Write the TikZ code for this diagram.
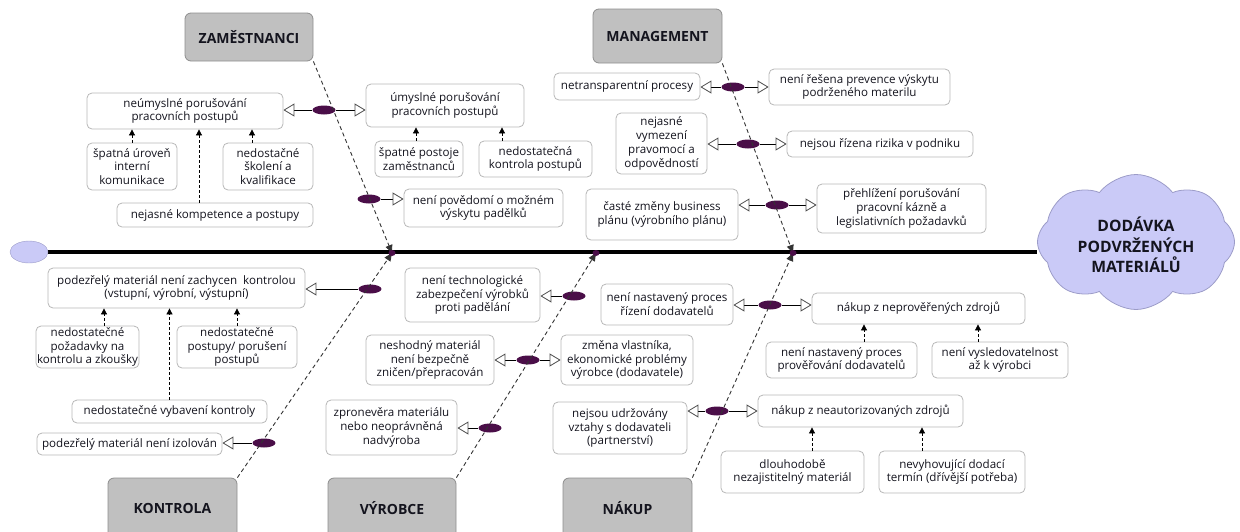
\documentclass[tikz,border=0pt]{standalone}
\usepackage{fontspec}
\setmainfont{Open Sans}
\usetikzlibrary{arrows.meta,shapes.geometric,shapes.symbols}
\definecolor{txt}{HTML}{14141E}
\definecolor{boxline}{HTML}{B8B8B8}
\definecolor{catfill}{HTML}{C0C0C0}
\definecolor{catline}{HTML}{8E8E8E}
\definecolor{pillc}{HTML}{4A0E48}
\definecolor{lav}{HTML}{CACAF7}
\definecolor{lavline}{HTML}{9C9CC8}
\pgfdeclarelayer{bg}
\pgfsetlayers{bg,main}
\tikzset{
  cause/.style={draw=boxline, fill=white, rounded corners=5pt, line width=0.8pt,
    align=center, text=txt, font=\fontsize{11.6}{13.8}\selectfont, inner sep=1pt},
  cat/.style={draw=catline, fill=catfill, rounded corners=6pt, line width=0.8pt,
    font=\fontsize{14}{16}\selectfont\bfseries, text=txt},
  pill/.style={ellipse, fill=pillc, minimum width=23pt, minimum height=9pt, inner sep=0pt},
  joint/.style={ellipse, fill=pillc, minimum width=7pt, minimum height=6pt, inner sep=0pt},
  link/.style={line width=0.8pt, draw=black,
    -{Triangle[open, length=11pt, width=13pt, line width=0.8pt, color=black!70]}},
  sub/.style={dashed, dash pattern=on 3pt off 2pt, line width=0.8pt, draw=black,
    -{Triangle[length=6pt, width=6pt]}},
  bone/.style={dashed, dash pattern=on 4pt off 3pt, line width=0.9pt, draw=black!80,
    -{Triangle[length=8pt, width=7pt]}},
}
\begin{document}
\begin{tikzpicture}[x=1pt, y=-1pt]
\useasboundingbox (0,0) rectangle (1240,531);
\clip (0,0) rectangle (1240,531);

% spine head and tail
\node[ellipse, draw=lavline, fill=lav, minimum width=38pt, minimum height=22pt, inner sep=0pt] (tail) at (29,252) {};
\node[cloud, cloud puffs=8, cloud puff arc=105, cloud ignores aspect, draw=lavline, fill=lav,
  line width=0.8pt, minimum width=197pt, minimum height=135pt, inner sep=0pt] (head) at (1136,242) {};
\node[font=\fontsize{15.7}{20.5}\selectfont\bfseries, text=txt, align=center] (effect) at (1136,245)
  {DODÁVKA\\PODVRŽENÝCH\\MATERIÁLŮ};
\begin{pgfonlayer}{bg}
  \draw[line width=3.2pt] (tail.east) -- (tail -| head.west);
\end{pgfonlayer}

% junctions on the spine
\coordinate (j1) at (392,253);
\coordinate (j2) at (596,253);
\coordinate (j3) at (793,253);

% category boxes
\node[cat, minimum width=128pt, minimum height=48pt] (zam) at (249,37) {ZAMĚSTNANCI};
\node[cat, minimum width=129pt, minimum height=54pt] (man) at (657.5,36) {MANAGEMENT};
\node[cat, minimum width=129pt, minimum height=60pt] (kon) at (172.5,508) {KONTROLA};
\node[cat, minimum width=128pt, minimum height=60pt] (vyr) at (392,508) {VÝROBCE};
\node[cat, minimum width=129pt, minimum height=60pt] (nak) at (627.5,508) {NÁKUP};

% ZAMĚSTNANCI causes
\node[cause, minimum width=196pt, minimum height=36pt] (n1) at (185,111) {neúmyslné porušování\\pracovních postupů};
\node[cause, minimum width=158pt, minimum height=43pt] (n2) at (445,105.5) {úmyslné porušování\\pracovních postupů};
\node[cause, minimum width=90pt, minimum height=47pt] (n3) at (132,166.5) {špatná úroveň\\interní\\komunikace};
\node[cause, minimum width=90pt, minimum height=47pt] (n4) at (268,166.5) {nedostačné\\školení a\\kvalifikace};
\node[cause, minimum width=196pt, minimum height=24pt] (n5) at (215,215) {nejasné kompetence a postupy};
\node[cause, minimum width=88pt, minimum height=36pt] (n6) at (419,159) {špatné postoje\\zaměstnanců};
\node[cause, minimum width=113pt, minimum height=36pt] (n7) at (535.5,159) {nedostatečná\\kontrola postupů};
\node[cause, minimum width=159pt, minimum height=38pt] (n8) at (483.5,208) {není povědomí o možném\\výskytu padělků};

% MANAGEMENT causes
\node[cause, minimum width=146pt, minimum height=27pt] (n9) at (627,86.5) {netransparentní procesy};
\node[cause, minimum width=181pt, minimum height=36pt] (n10) at (859.5,87) {není řešena prevence výskytu\\podrženého materilu};
\node[cause, minimum width=91pt, minimum height=61pt] (n11) at (661.5,143.5) {nejasné\\vymezení\\pravomocí a\\odpovědností};
\node[cause, minimum width=186pt, minimum height=26pt] (n12) at (880,144) {nejsou řízena rizika v podniku};
\node[cause, minimum width=152pt, minimum height=51pt] (n13) at (662,214.5) {časté změny business\\plánu (výrobního plánu)};
\node[cause, minimum width=169pt, minimum height=49pt] (n14) at (901.5,208.5) {přehlížení porušování\\pracovní kázně a\\legislativních požadavků};

% KONTROLA causes
\node[cause, minimum width=257pt, minimum height=40pt] (n15) at (176.5,288) {podezřelý materiál není zachycen\ \ kontrolou\\(vstupní, výrobní, výstupní)};
\node[cause, minimum width=101pt, minimum height=42pt] (n16) at (87.5,347) {nedostatečné\\požadavky na\\kontrolu a zkoušky};
\node[cause, minimum width=120pt, minimum height=42pt] (n17) at (237,347) {nedostatečné\\postupy/ porušení\\postupů};
\node[cause, minimum width=195pt, minimum height=23pt] (n18) at (169.5,411.5) {nedostatečné vybavení kontroly};
\node[cause, minimum width=185pt, minimum height=22pt] (n19) at (129.5,444) {podezřelý materiál není izolován};

% VÝROBCE causes
\node[cause, minimum width=135pt, minimum height=54pt] (n20) at (472.5,295) {není technologické\\zabezpečení výrobků\\proti padělání};
\node[cause, minimum width=128pt, minimum height=50pt] (n21) at (430,360) {neshodný materiál\\není bezpečně\\zničen/přepracován};
\node[cause, minimum width=132pt, minimum height=50pt] (n22) at (627,360) {změna vlastníka,\\ekonomické problémy\\výrobce (dodavatele)};
\node[cause, minimum width=131pt, minimum height=55pt] (n23) at (391.5,427.5) {zpronevěra materiálu\\nebo neoprávněná\\nadvýroba};

% NÁKUP causes
\node[cause, minimum width=132pt, minimum height=41pt] (n24) at (667,304.5) {není nastavený proces\\řízení dodavatelů};
\node[cause, minimum width=213pt, minimum height=31pt] (n25) at (918.5,308.5) {nákup z neprověřených zdrojů};
\node[cause, minimum width=151pt, minimum height=36pt] (n26) at (841.5,360) {není nastavený proces\\prověřování dodavatelů};
\node[cause, minimum width=136pt, minimum height=36pt] (n27) at (1000,360) {není vysledovatelnost\\až k výrobci};
\node[cause, minimum width=134pt, minimum height=52pt] (n28) at (620,428) {nejsou udržovány\\vztahy s dodavateli\\(partnerství)};
\node[cause, minimum width=205pt, minimum height=32pt] (n29) at (860.5,411) {nákup z neautorizovaných zdrojů};
\node[cause, minimum width=143pt, minimum height=42pt] (n30) at (792.5,472) {dlouhodobě\\nezajistitelný materiál};
\node[cause, minimum width=146pt, minimum height=42pt] (n31) at (952,472) {nevyhovující dodací\\termín (dřívější potřeba)};

% pills that hold the cause pairs on the bones
\node[pill] (o1) at (324,110) {};
\node[pill] (o2) at (369,199) {};
\node[pill] (o3) at (733,87) {};
\node[pill] (o4) at (748,144) {};
\node[pill] (o5) at (777,205) {};
\node[pill] (o6) at (370,289) {};
\node[pill] (o7) at (264,443) {};
\node[pill] (o8) at (574,296) {};
\node[pill] (o9) at (528,360) {};
\node[pill] (o10) at (490,428) {};
\node[pill] (o11) at (770,305) {};
\node[pill] (o12) at (717,411) {};

% links from pills to causes
\begin{pgfonlayer}{bg}
  \draw[link] (o1) -- (o1 -| n1.east);
  \draw[link] (o1) -- (o1 -| n2.west);
  \draw[link] (o2) -- (o2 -| n8.west);
  \draw[link] (o3) -- (o3 -| n9.east);
  \draw[link] (o3) -- (o3 -| n10.west);
  \draw[link] (o4) -- (o4 -| n11.east);
  \draw[link] (o4) -- (o4 -| n12.west);
  \draw[link] (o5) -- (o5 -| n13.east);
  \draw[link] (o5) -- (o5 -| n14.west);
  \draw[link] (o6) -- (o6 -| n15.east);
  \draw[link] (o7) -- (o7 -| n19.east);
  \draw[link] (o8) -- (o8 -| n20.east);
  \draw[link] (o9) -- (o9 -| n21.east);
  \draw[link] (o9) -- (o9 -| n22.west);
  \draw[link] (o10) -- (o10 -| n23.east);
  \draw[link] (o11) -- (o11 -| n24.east);
  \draw[link] (o11) -- (o11 -| n25.west);
  \draw[link] (o12) -- (o12 -| n28.east);
  \draw[link] (o12) -- (o12 -| n29.west);
\end{pgfonlayer}

% sub-causes
\draw[sub] (n3.north) -- (n3.north |- n1.south);
\draw[sub] ([xshift=-16pt]n4.north) -- ([xshift=-16pt]n4.north |- n1.south);
\draw[sub] ([xshift=-16pt]n5.north) -- ([xshift=-16pt]n5.north |- n1.south);
\draw[sub] ([xshift=-3pt]n6.north) -- ([xshift=-3pt]n6.north |- n2.south);
\draw[sub] ([xshift=-33.5pt]n7.north) -- ([xshift=-33.5pt]n7.north |- n2.south);
\draw[sub] ([xshift=16.5pt]n16.north) -- ([xshift=16.5pt]n16.north |- n15.south);
\draw[sub] (n17.north) -- (n17.north |- n15.south);
\draw[sub] (n18.north) -- (n18.north |- n15.south);
\draw[sub] ([xshift=22.5pt]n26.north) -- ([xshift=22.5pt]n26.north |- n25.south);
\draw[sub] ([xshift=-22pt]n27.north) -- ([xshift=-22pt]n27.north |- n25.south);
\draw[sub] ([xshift=19.5pt]n30.north) -- ([xshift=19.5pt]n30.north |- n29.south);
\draw[sub] ([xshift=-30pt]n31.north) -- ([xshift=-30pt]n31.north |- n29.south);

% bones
\draw[bone] (zam.south east) -- (j1);
\draw[bone] (kon.north east) -- (j1);
\draw[bone] (vyr.north east) -- (j2);
\draw[bone] (man.south east) -- (j3);
\draw[bone] (nak.north east) -- (j3);
\node[joint] (k1) at (j1) {};
\node[joint] (k2) at (j2) {};
\node[joint] (k3) at (j3) {};
\end{tikzpicture}
\end{document}
